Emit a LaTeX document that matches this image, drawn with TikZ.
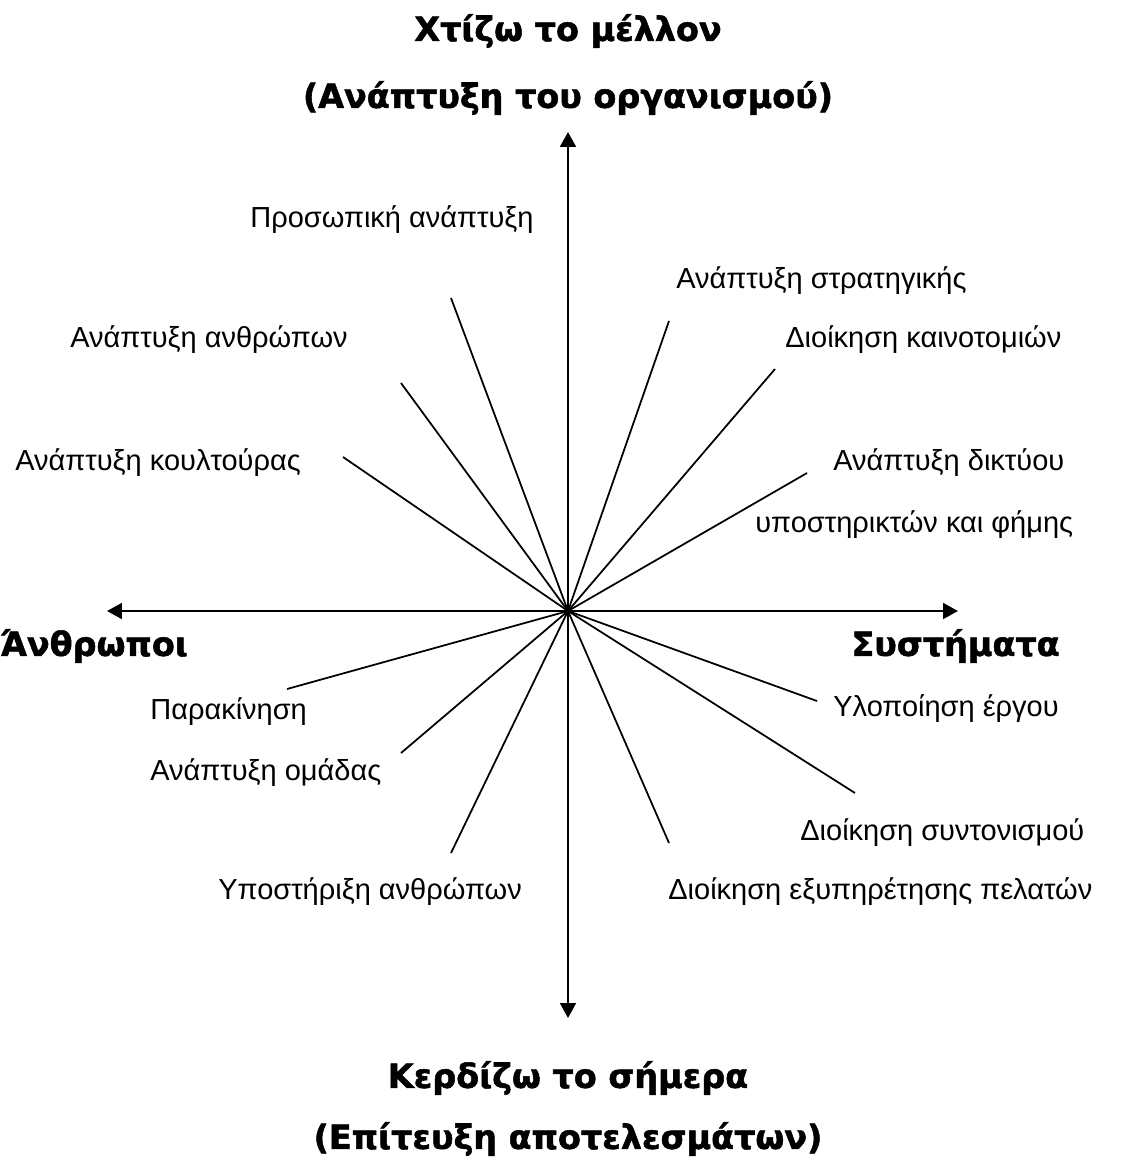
\documentclass[tikz,border=0pt]{standalone}
\usepackage{fontspec}
\setmainfont{Liberation Sans}
\newfontfamily\headfont{DejaVu Sans Bold}[FakeBold=1.6]
\usetikzlibrary{arrows.meta}

\begin{document}
\begin{tikzpicture}[x=0.02cm, y=-0.02cm,
    every node/.style={inner sep=0pt, font=\fontsize{16.5}{20}\selectfont},
    spoketext/.style={anchor=west},
    heading/.style={font=\headfont\fontsize{19}{22}\selectfont},
    axis/.style={line width=1.3pt, {Triangle[length=8.5pt,width=9pt]}-{Triangle[length=8.5pt,width=9pt]}},
    spoke/.style={line width=1pt}]
    \useasboundingbox (0,0) rectangle (1123,1160);
    % centre and axis ends
    \coordinate (O) at (568,611);
    \coordinate (N) at (568,132);
    \coordinate (S) at (568,1018);
    \coordinate (W) at (107,611);
    \coordinate (E) at (958,611);
    \draw [axis] (N) -- (S);
    \draw [axis] (W) -- (E);
    % headings
    \node[heading] (future) at (568,31) {Χτίζω το μέλλον};
    \node[heading] (org) at (568,98) {(Ανάπτυξη του οργανισμού)};
    \node[heading] (today) at (568,1078) {Κερδίζω το σήμερα};
    \node[heading] (results) at (568,1139) {(Επίτευξη αποτελεσμάτων)};
    \node[heading, anchor=west] (people) at (0,646) {Άνθρωποι};
    \node[heading, anchor=east] (systems) at (1060,646) {Συστήματα};
    % spoke ends
    \coordinate (personal) at (451,298);
    \coordinate (strategy) at (669,321);
    \coordinate (innov) at (775,369);
    \coordinate (develop) at (401,383);
    \coordinate (culture) at (343,457);
    \coordinate (network) at (807,473);
    \coordinate (motiv) at (287,689);
    \coordinate (project) at (817,701);
    \coordinate (team) at (401,753);
    \coordinate (coord) at (855,793);
    \coordinate (support) at (451,853);
    \coordinate (service) at (669,843);
    \draw [spoke] (O) -- (personal);
    \draw [spoke] (O) -- (strategy);
    \draw [spoke] (O) -- (innov);
    \draw [spoke] (O) -- (develop);
    \draw [spoke] (O) -- (culture);
    \draw [spoke] (O) -- (network);
    \draw [spoke] (O) -- (motiv);
    \draw [spoke] (O) -- (project);
    \draw [spoke] (O) -- (team);
    \draw [spoke] (O) -- (coord);
    \draw [spoke] (O) -- (support);
    \draw [spoke] (O) -- (service);
    % labels
    \node[spoketext] (personal-l) at (250,220) {Προσωπική ανάπτυξη};
    \node[spoketext] (strategy-l) at (676,281) {Ανάπτυξη στρατηγικής};
    \node[spoketext] (develop-l) at (70,340) {Ανάπτυξη ανθρώπων};
    \node[spoketext] (innov-l) at (785,340) {Διοίκηση καινοτομιών};
    \node[spoketext] (culture-l) at (15,463) {Ανάπτυξη κουλτούρας};
    \node[spoketext] (network-l) at (833,463) {Ανάπτυξη δικτύου};
    \node[spoketext] (network-l2) at (755,525) {υποστηρικτών και φήμης};
    \node[spoketext] (motiv-l) at (150,712) {Παρακίνηση};
    \node[spoketext] (project-l) at (833,709) {Υλοποίηση έργου};
    \node[spoketext] (team-l) at (150,773) {Ανάπτυξη ομάδας};
    \node[spoketext] (coord-l) at (800,833) {Διοίκηση συντονισμού};
    \node[spoketext] (support-l) at (218,892) {Υποστήριξη ανθρώπων};
    \node[spoketext] (service-l) at (668,892) {Διοίκηση εξυπηρέτησης πελατών};
\end{tikzpicture}
\end{document}
